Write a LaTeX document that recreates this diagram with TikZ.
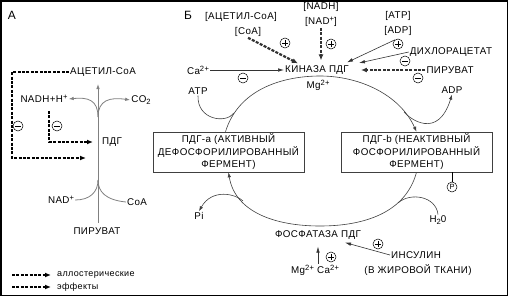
\documentclass[tikz,border=0pt]{standalone}
\usepackage{fontspec}
\setmainfont{Liberation Sans}[LetterSpace=4]
\usetikzlibrary{arrows.meta,calc}
\newcommand{\upx}[1]{\raisebox{0.55ex}{\fontsize{7.6}{8}\selectfont #1}}
\newcommand{\dnx}[1]{\raisebox{-0.35ex}{\fontsize{7.6}{8}\selectfont #1}}
\begin{document}
\begin{tikzpicture}[x=1pt,y=-1pt,
  lbl/.style={inner sep=1pt,font=\fontsize{9.8}{11}\selectfont},
  big/.style={inner sep=1pt,font=\fontsize{12}{13}\selectfont},
  dsh/.style={line width=2.2pt,dash pattern=on 3pt off 1.4pt,-{Latex[length=6pt,width=5pt]}},
  dshB/.style={dsh,draw=black!80},
  sol/.style={line width=0.6pt,draw=black!80,-{Latex[length=6pt,width=3.5pt]}},
  grl/.style={line width=0.8pt,draw=black!50},
  cyc/.style={line width=0.6pt,draw=black!75},
  tip/.style={-{Latex[length=5pt,width=3.5pt]}},
  sgn/.style={circle,draw,line width=0.5pt,minimum size=10pt,inner sep=0pt},
  minus/.style={sgn,path picture={\draw[line width=0.6pt] ($(path picture bounding box.center)+(-3,0)$) -- ($(path picture bounding box.center)+(3,0)$);}},
  plus/.style={sgn,path picture={\draw[line width=0.6pt] ($(path picture bounding box.center)+(-3,0)$) -- ($(path picture bounding box.center)+(3,0)$) ($(path picture bounding box.center)+(0,-3)$) -- ($(path picture bounding box.center)+(0,3)$);}},
  box/.style={draw=black!75,line width=0.6pt,minimum width=151pt,minimum height=40pt,align=center,inner sep=1pt,font=\fontsize{9.8}{12.5}\selectfont}
]
\useasboundingbox (0,0) rectangle (509,297);
\draw[line width=1.5pt] (1,1) rectangle (507.5,295.5);

% ---------- Panel A ----------
\node[big] (labA) at (12,15) {А};
\node[lbl] (acetyl) at (103,72) {АЦЕТИЛ-CoA};
\node[lbl] (nadh) at (44,99) {NADH+H\upx{+}};
\node[lbl] (co2) at (141,100) {CO\dnx{2}};
\node[lbl] (pdg) at (112,142) {ПДГ};
\node[lbl] (nad) at (61,200) {NAD\upx{+}};
\node[lbl] (coa) at (137,202) {CoA};
\node[lbl] (pyr) at (97,231) {ПИРУВАТ};
\coordinate (lineTop) at (98,84);
\coordinate (lineBot) at (98,223);
\coordinate (brU) at (98,117);
\coordinate (brL) at (98,180);
\draw[grl,tip] (lineBot) -- (lineTop);
\draw[grl,tip] (brU) .. controls (98,100) and (88,97) .. (nadh.east);
\draw[grl,tip] (brU) .. controls (98,100) and (110,97) .. (co2.west);
\draw[grl] (nad.east) .. controls (90,200) and (98,192) .. (brL);
\draw[grl] (coa.west) .. controls (106,200) and (98,192) .. (brL);
\coordinate (ocorner) at (12,158);
\coordinate (otip) at (86,158);
\draw[dsh] (acetyl.west) -| (ocorner) -- (otip);
\coordinate (istart) at (49,111);
\coordinate (itip) at (93,142);
\draw[dsh] (istart) |- (itip);
\node[minus] (sA1) at (18,126) {};
\node[minus] (sA2) at (57,126) {};
% legend
\coordinate (lg1a) at (12,275); \coordinate (lg1b) at (51,275);
\coordinate (lg2a) at (12,287); \coordinate (lg2b) at (51,287);
\draw[dsh] (lg1a) -- (lg1b);
\draw[dsh] (lg2a) -- (lg2b);
\node[lbl,anchor=west,font=\fontsize{9}{10}\selectfont] (lgt1) at (56,275) {аллостерические};
\node[lbl,anchor=west,font=\fontsize{9}{10}\selectfont] (lgt2) at (56,287) {эффекты};

% ---------- Panel B ----------
\node[big] (labB) at (188,15) {Б};
\node[lbl] (acq) at (241,17) {[АЦЕТИЛ-CoA]};
\node[lbl] (coaq) at (248,32) {[CoA]};
\node[lbl] (nadhq) at (321,7) {[NADH]};
\node[lbl] (nadq) at (321,22) {[NAD\upx{+}]};
\node[lbl] (atpq) at (398,16) {[ATP]};
\node[lbl] (adpq) at (398,31) {[ADP]};
\node[lbl] (dichl) at (451,52) {ДИХЛОРАЦЕТАТ};
\node[lbl] (ca) at (198,70) {Ca\upx{2+}};
\node[lbl] (kin) at (317,70) {КИНАЗА ПДГ};
\node[lbl] (pyrB) at (450,70) {ПИРУВАТ};
\node[lbl] (mg) at (318,85) {Mg\upx{2+}};
\node[lbl] (atp) at (198,91) {ATP};
\node[lbl] (adp) at (452,90) {ADP};
\node[box] (boxa) at (228.5,152) {ПДГ-а (АКТИВНЫЙ\\ДЕФОСФОРИЛИРОВАННЫЙ\\ФЕРМЕНТ)};
\node[box] (boxb) at (416.5,152) {ПДГ-b (НЕАКТИВНЫЙ\\ФОСФОРИЛИРОВАННЫЙ\\ФЕРМЕНТ)};
\node[lbl] (pi) at (199,216) {Pi};
\node[lbl] (h2o) at (438,220) {H\dnx{2}0};
\node[lbl] (phos) at (318,235) {ФОСФАТАЗА ПДГ};
\node[lbl] (ins) at (416,255) {ИНСУЛИН};
\node[lbl] (fat) at (418,270) {(В ЖИРОВОЙ ТКАНИ)};
\node[lbl] (mgca) at (315,270) {Mg\upx{2+} Ca\upx{2+}};
\node[circle,draw,line width=0.5pt,inner sep=0pt,minimum size=10pt,font=\fontsize{7.5}{8}\selectfont] (P) at (452,187) {P};
\draw[line width=0.5pt] (P.north) -- (P.north |- boxb.south);

% regulators of kinase
\draw[dshB] (coaq.south) -- ($(kin.north west)+(14,-1)$);
\draw[dshB] (nadq.south) -- ($(kin.north)+(4,-4)$);
\draw[sol] (ca.east) -- (kin.west);
\draw[sol] ($(adpq.south)+(-3,3)$) -- ($(kin.north east)+(-3,-2)$);
\draw[sol] (dichl.west) -- ($(kin.east)+(9,-7)$);
\draw[dshB] (pyrB.west) -- ($(kin.east)+(11,0)$);
\node[plus] (s1) at (285,43) {};
\node[plus] (s2) at (331,44) {};
\node[minus] (s3) at (243,78) {};
\node[plus] (s4) at (398,44) {};
\node[minus] (s5) at (405,61) {};
\node[minus] (s6) at (418,78) {};

% regulators of phosphatase
\draw[sol] (ins.west) -- ($(phos.south east)+(-17,2)$);
\draw[sol] ($(mgca.north)+(3,0)$) -- ($(phos.south)+(0,6)$);
\node[plus] (s7) at (378,244) {};
\node[plus] (s8) at (331,257) {};

% cycle
\coordinate (m1) at (234,113);
\coordinate (m2) at (404,112);
\coordinate (m3) at (398,203);
\coordinate (m4) at (243,201);
\draw[cyc,tip] ($(boxa.north)+(-3,0)$) .. controls (240,85) and (290,76) .. (320,76) .. controls (360,76) and (400,95) .. (boxb.north);
\draw[cyc,tip] (boxb.south) .. controls (405,215) and (360,226) .. (320,226) .. controls (275,226) and (235,212) .. (boxa.south);
\draw[cyc] (atp.south) .. controls (197,120) and (226,124) .. (m1);
\draw[cyc,tip] (m2) .. controls (410,119) and (438,140) .. (adp.south);
\draw[cyc] (h2o.north) .. controls (436,196) and (410,192) .. (m3);
\draw[cyc,tip] (m4) .. controls (236,194) and (212,188) .. (pi.north);
\end{tikzpicture}
\end{document}
